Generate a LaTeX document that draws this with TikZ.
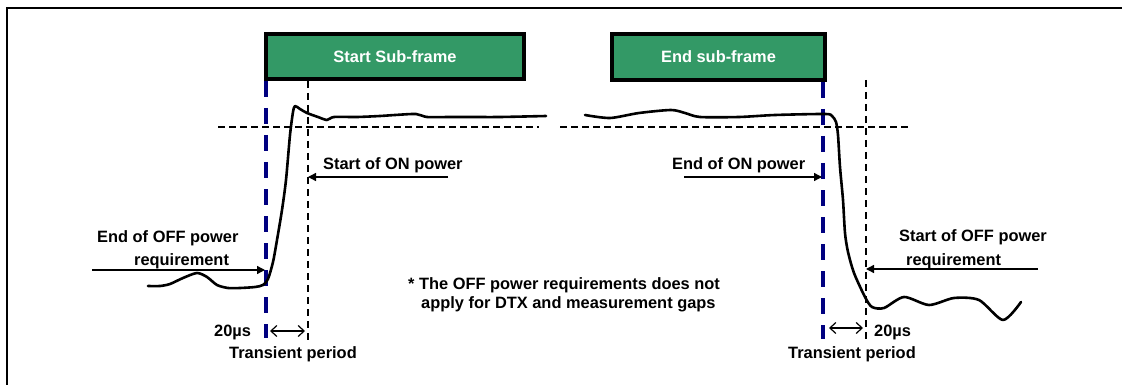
\documentclass[tikz,border=0pt]{standalone}
\usepackage{fontspec}
\setmainfont{Liberation Sans}
\usetikzlibrary{arrows.meta}
\definecolor{sfgreen}{RGB}{51,153,102}
\definecolor{navyline}{RGB}{0,0,128}
\begin{document}
\begin{tikzpicture}[x=1pt,y=-1pt,
  lbl/.style={font=\bfseries\fontsize{16.4}{19}\selectfont, inner sep=0pt, anchor=base west},
  subframe/.style={draw=black, line width=4pt, fill=sfgreen, text=white,
    font=\bfseries\fontsize{16.4}{19}\selectfont, minimum width=258pt,
    minimum height=45pt, inner sep=0pt, outer sep=0pt},
  bluedash/.style={navyline, line width=3.5pt, dash pattern=on 16pt off 11pt},
  thindash/.style={black, line width=1.3pt, dash pattern=on 7pt off 5pt},
  hdash/.style={black, line width=1.5pt, dash pattern=on 7pt off 4pt},
  wave/.style={black, line width=2.6pt, line cap=round, line join=round},
  pointer/.style={black, line width=1.4pt, -{Triangle[length=8pt,width=8pt]}},
  span/.style={black, line width=1.2pt,
    {Straight Barb[length=6pt,width=11pt]}-{Straight Barb[length=6pt,width=11pt]}}]

\useasboundingbox (0,0) rectangle (1122,385);

% frame
\coordinate (frBL) at (7,385);
\coordinate (frTL) at (7,8);
\coordinate (frTR) at (1122,8);
\draw[line width=2.6pt] (frBL) -- (frTL) -- (frTR);

% vertical marker lines
\coordinate (blueLt) at (266,81);
\coordinate (blueLb) at (266,338);
\coordinate (blueRt) at (823,82);
\coordinate (blueRb) at (823,339);
\draw[bluedash] (blueLt) -- (blueLb);
\draw[bluedash] (blueRt) -- (blueRb);

\coordinate (blkLt) at (308,81);
\coordinate (blkLb) at (308,341);
\coordinate (blkRt) at (866,80);
\coordinate (blkRb) at (866,341);
\draw[thindash] (blkLt) -- (blkLb);
\draw[thindash] (blkRt) -- (blkRb);

% horizontal ON-power level
\coordinate (hLa) at (218,127);
\coordinate (hLb) at (539,127);
\coordinate (hRa) at (560,127);
\coordinate (hRb) at (909,127);
\draw[hdash] (hLa) -- (hLb);
\draw[hdash] (hRa) -- (hRb);

% waveforms
\draw[wave] plot[smooth, tension=0.45] coordinates {
  (148,286) (160,286) (170,284) (183,278) (197,273) (207,277) (217,285)
  (228,288) (240,288) (255,287) (263,285) (268,279) (273,262) (277,240)
  (282,210) (286,180) (290,135) (293,112) (295,106) (300,109) (307,113)
  (318,117) (327,120) (334,117) (357,117) (380,116) (395,115) (416,114)
  (427,117) (450,117) (471,117) (500,117) (546,116)};
\draw[wave] plot[smooth, tension=0.45] coordinates {
  (585,115) (610,118) (639,113) (671,110) (685,113) (700,117) (739,117)
  (775,115) (825,114) (832,116) (836,122) (838,135) (840,167) (843,200)
  (845,233) (848,252) (854,273) (865,297) (872,307) (884,308) (904,297)
  (929,305) (954,298) (979,300) (1003,320) (1021,302)};

% sub-frame boxes
\node[subframe] (sbox) at (395,56.5) {Start Sub-frame};
\node[subframe, minimum width=213pt, minimum height=46pt] (ebox) at (718.5,57) {End sub-frame};

% labels
\node[lbl] (onStart) at (323,170) {Start of ON power};
\node[lbl] (onEnd) at (672,170) {End of ON power};
\node[lbl] (offEndA) at (97,242) {End of OFF power};
\node[lbl] (offEndB) at (134,265) {requirement};
\node[lbl] (offStartA) at (899,241) {Start of OFF power};
\node[lbl] (offStartB) at (906,265) {requirement};
\node[lbl] (noteA) at (408,289) {* The OFF power requirements does not};
\node[lbl] (noteB) at (421,308) {apply for DTX and measurement gaps};
\node[lbl] (usL) at (214,336) {20µs};
\node[lbl] (trL) at (229,358) {Transient period};
\node[lbl] (usR) at (874,336) {20µs};
\node[lbl] (trR) at (788,358) {Transient period};

% pointer arrows
\coordinate (onSa) at (448,177);
\coordinate (onSb) at (308,177);
\draw[pointer] (onSa) -- (onSb);
\coordinate (onEa) at (684,177);
\coordinate (onEb) at (822,177);
\draw[pointer] (onEa) -- (onEb);
\coordinate (offEa) at (92,270);
\coordinate (offEb) at (265,270);
\draw[pointer] (offEa) -- (offEb);
\coordinate (offSa) at (1038,269);
\coordinate (offSb) at (866,269);
\draw[pointer] (offSa) -- (offSb);

% transient spans
\coordinate (spLa) at (270,331);
\coordinate (spLb) at (305,331);
\draw[span] (spLa) -- (spLb);
\coordinate (spRa) at (829,328);
\coordinate (spRb) at (863,328);
\draw[span] (spRa) -- (spRb);
\end{tikzpicture}
\end{document}
